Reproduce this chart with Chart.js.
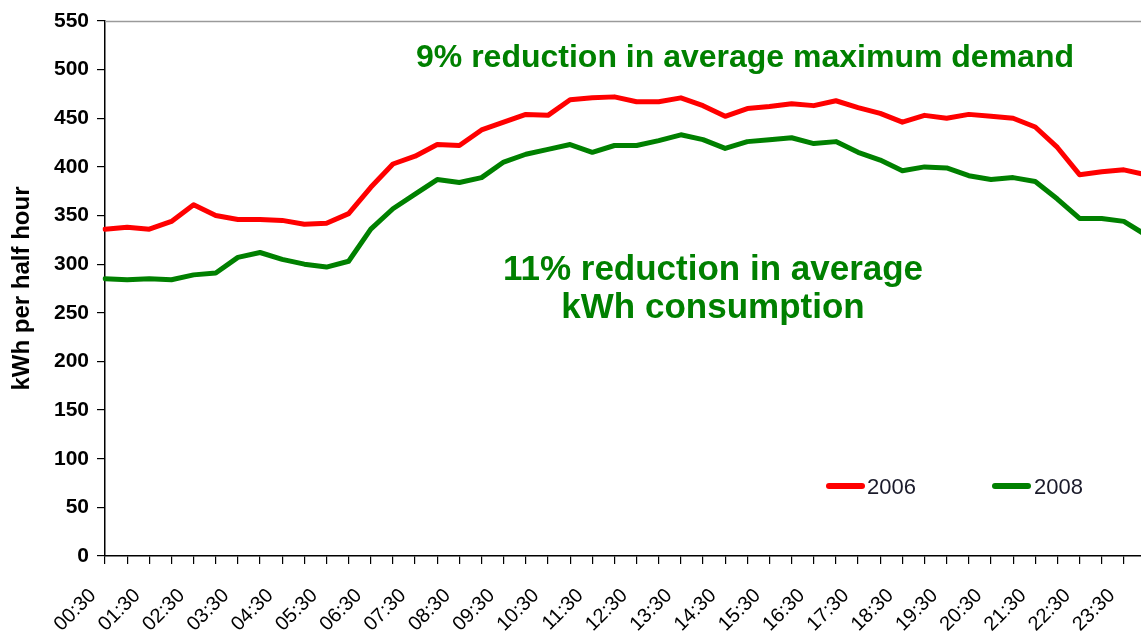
<!DOCTYPE html>
<html>
<head>
<meta charset="utf-8">
<script src="https://cdn.jsdelivr.net/npm/chart.js@4.4.1/dist/chart.umd.min.js"></script>
<style>
  html, body { margin: 0; padding: 0; background: #fff; overflow: hidden; }
  #wrap { position: relative; width: 1150px; height: 637px; }
</style>
</head>
<body>
<div id="wrap"><canvas id="c" width="1150" height="637"></canvas></div>
<script>
// Half-hourly categories
const times = ["00:30","01:00","01:30","02:00","02:30","03:00","03:30","04:00","04:30","05:00","05:30","06:00",
               "06:30","07:00","07:30","08:00","08:30","09:00","09:30","10:00","10:30","11:00","11:30","12:00",
               "12:30","13:00","13:30","14:00","14:30","15:00","15:30","16:00","16:30","17:00","17:30","18:00",
               "18:30","19:00","19:30","20:00","20:30","21:00","21:30","22:00","22:30","23:00","23:30","24:00"];

const kwh2006 = [336,338,336,344,361,350,346,346,345,341,342,352,
                 379,403,411,423,422,438,446,454,453,469,471,472,
                 467,467,471,463,452,460,462,465,463,468,461,455,
                 446,453,450,454,452,450,441,420,392,395,397,392];

const kwh2008 = [285,284,285,284,289,291,307,312,305,300,297,303,
                 336,357,372,387,384,389,405,413,418,423,415,422,
                 422,427,433,428,419,426,428,430,424,426,415,407,
                 396,400,399,391,387,389,385,367,347,347,344,330];

const seriesNames = ["2006", "2008"];
const seriesColors = ["#ff0000", "#008000"];
const yTickValues = [0,50,100,150,200,250,300,350,400,450,500,550];
const yTitle = "kWh per half hour";
const noteTop = "9% reduction in average maximum demand";
const noteMid = ["11% reduction in average", "kWh consumption"];

const decorations = {
  id: 'decorations',
  afterDraw(chart) {
    const ctx = chart.ctx;
    const a = chart.chartArea;
    ctx.save();
    // top border of plot area
    ctx.strokeStyle = '#9a9a9a';
    ctx.lineWidth = 1.5;
    ctx.beginPath();
    ctx.moveTo(a.left, a.top + 0.5);
    ctx.lineTo(a.right, a.top + 0.5);
    ctx.stroke();

    // annotations
    ctx.fillStyle = '#008000';
    ctx.textAlign = 'center';
    ctx.textBaseline = 'alphabetic';
    ctx.font = 'bold 32px "Liberation Sans", Arial, sans-serif';
    ctx.fillText(noteTop, 745, 67);
    ctx.font = 'bold 35px "Liberation Sans", Arial, sans-serif';
    ctx.fillText(noteMid[0], 713, 280);
    ctx.fillText(noteMid[1], 713, 318);

    // legend
    const items = [{x: 827, tx: 867}, {x: 993, tx: 1034}];
    chart.data.datasets.forEach((ds, i) => {
      const it = items[i];
      ctx.strokeStyle = ds.borderColor;
      ctx.lineWidth = 6;
      ctx.lineCap = 'round';
      ctx.beginPath();
      ctx.moveTo(it.x + 2, 486);
      ctx.lineTo(it.x + 35, 486);
      ctx.stroke();
      ctx.fillStyle = '#1a1a2a';
      ctx.textAlign = 'left';
      ctx.textBaseline = 'middle';
      ctx.font = '22px "Liberation Sans", Arial, sans-serif';
      ctx.fillText(ds.label, it.tx, 488);
    });
    ctx.restore();
  }
};

new Chart(document.getElementById('c'), {
  type: 'line',
  data: {
    labels: times,
    datasets: [
      { label: seriesNames[0], data: kwh2006, borderColor: seriesColors[0], backgroundColor: seriesColors[0],
        borderWidth: 5, pointRadius: 0, tension: 0, borderJoinStyle: 'round', borderCapStyle: 'round', fill: false },
      { label: seriesNames[1], data: kwh2008, borderColor: seriesColors[1], backgroundColor: seriesColors[1],
        borderWidth: 5, pointRadius: 0, tension: 0, borderJoinStyle: 'round', borderCapStyle: 'round', fill: false }
    ]
  },
  options: {
    responsive: false,
    animation: false,
    layout: { padding: { top: 21, right: 4, left: 0, bottom: 0 } },
    plugins: { legend: { display: false }, tooltip: { enabled: false }, title: { display: false } },
    scales: {
      x: {
        type: 'category',
        offset: false,
        grid: { drawOnChartArea: false, drawTicks: true, tickLength: 8, color: '#000', lineWidth: 1.2, offset: false },
        border: { display: true, color: '#000', width: 1.5 },
        ticks: {
          autoSkip: false, maxRotation: 45, minRotation: 45, padding: 20, labelOffset: -12,
          color: '#000', font: { family: '"Liberation Sans", Arial, sans-serif', size: 20 },
          callback: function(v, i) { return i % 2 === 0 ? this.getLabelForValue(v) : ''; }
        },
        afterFit(s) { s.height = 81; s.paddingLeft = 0; s.paddingRight = 0; }
      },
      y: {
        min: 0, max: 550,
        afterBuildTicks(s) { s.ticks = yTickValues.map(v => ({ value: v })); },
        grid: { drawOnChartArea: false, drawTicks: true, tickLength: 8, color: '#000', lineWidth: 1.2 },
        border: { display: true, color: '#000', width: 1.5 },
        ticks: { padding: 8, color: '#000', font: { family: '"Liberation Sans", Arial, sans-serif', size: 21, weight: 'bold' } },
        title: { display: true, text: yTitle, color: '#000', padding: { top: 8, bottom: 0 },
                 font: { family: '"Liberation Sans", Arial, sans-serif', size: 24, weight: 'bold' } },
        afterFit(s) { s.width = 105; s.paddingTop = 0; s.paddingBottom = 0; }
      }
    }
  },
  plugins: [decorations]
});
</script>
</body>
</html>
